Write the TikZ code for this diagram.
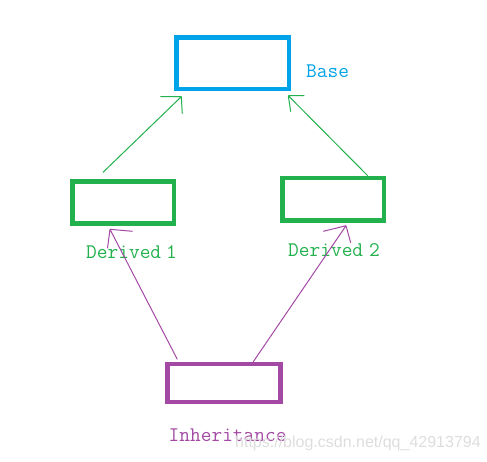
\documentclass[tikz,border=0pt]{standalone}
\usepackage{fontspec}
\newfontfamily\wmfont{Liberation Sans}
\definecolor{pblue}{HTML}{00A2E8}
\definecolor{pgreen}{HTML}{22B14C}
\definecolor{ppurple}{HTML}{A349A4}
\definecolor{wmgray}{HTML}{DDDDDD}
\begin{document}
\begin{tikzpicture}[x=1pt,y=-1pt,
  box/.style={draw,line width=4.7pt,inner sep=0pt},
  lbl/.style={anchor=base west,inner sep=0pt,font=\fontsize{20.8}{24}\selectfont\ttfamily},
  conn/.style={line width=1pt}]
\useasboundingbox (0,0) rectangle (487,461);
% boxes
\node[box,pblue,minimum width=112.5pt,minimum height=51.5pt] (base) at (232.75,63.25) {};
\node[box,pgreen,minimum width=101.5pt,minimum height=42pt] (d1) at (123.25,202.5) {};
\node[box,pgreen,minimum width=101.5pt,minimum height=42.5pt] (d2) at (333.25,199.25) {};
\node[box,ppurple,minimum width=113pt,minimum height=38pt] (inh) at (224,383) {};
% labels
\node[lbl,text=pblue] (baselbl) at (306,77) {Base};
\node[lbl,text=pgreen] (d1lbl) at (86,258) {Derived\kern5pt 1};
\node[lbl,text=pgreen] (d2lbl) at (288,256) {Derived\kern6pt 2};
\node[lbl,text=ppurple] (inhlbl) at (168.5,441.5) {Inheritance};
\node[anchor=base west,inner sep=0pt,text=wmgray,font=\wmfont\fontsize{16}{18}\selectfont] (wmk) at (235,447) {https://blog.csdn.net/qq\_42913794};
% connector end points
\coordinate (s1) at (103,172.3);
\coordinate (t1) at (181.3,96.7);
\coordinate (s2) at (367.7,175.7);
\coordinate (t2) at (288.3,95.7);
\coordinate (s3) at (177.3,359.3);
\coordinate (t3) at (110,229.3);
\coordinate (s4) at (253.3,361.7);
\coordinate (t4) at (346,225.7);
% connectors with hand-drawn heads
\draw[conn,pgreen] (s1) -- (t1) (t1) -- ++(-21,0) (t1) -- ++(1,17);
\draw[conn,pgreen] (s2) -- (t2) (t2) -- ++(16,0) (t2) -- ++(2.4,16);
\draw[conn,ppurple] (s3) -- (t3) (t3) -- ++(22.7,2) (t3) -- ++(-2.5,19);
\draw[conn,ppurple] (s4) -- (t4) (t4) -- ++(-22.7,5.6) (t4) -- ++(4.7,17);
\end{tikzpicture}
\end{document}
